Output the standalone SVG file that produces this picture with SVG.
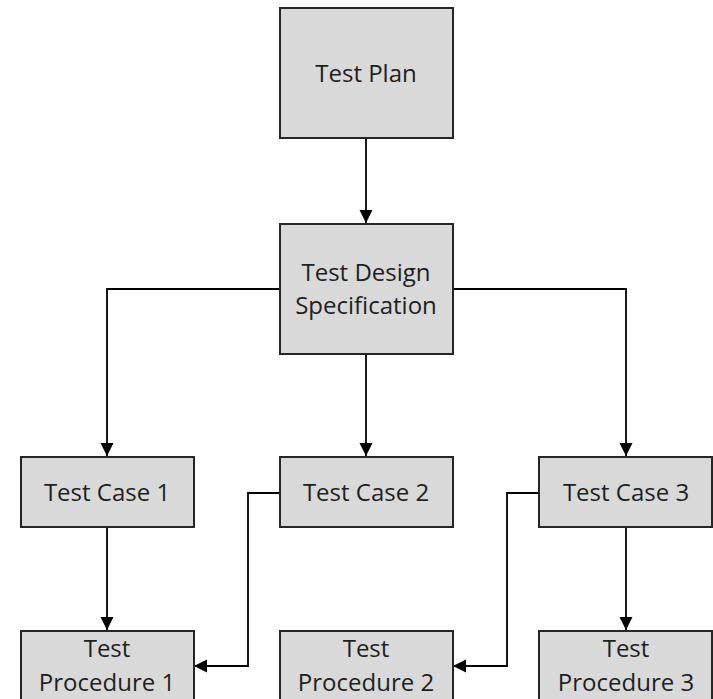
<svg xmlns="http://www.w3.org/2000/svg" width="713" height="699" viewBox="0 0 713 699">
<style>
.box{fill:#d9d9d9;stroke:#262626;stroke-width:2}
.lbl{font-family:"Open Sans","Noto Sans",sans-serif;font-size:24px;fill:#1f1f1f;text-anchor:middle}
.conn{fill:none;stroke:#000;stroke-width:1.8}
</style>
<defs>
<marker id="arr" markerUnits="userSpaceOnUse" markerWidth="14" markerHeight="14" refX="13" refY="7" orient="auto">
<path d="M0,0.5 L13,7 L0,13.5 z" fill="#000"/>
</marker>
</defs>
<rect width="713" height="699" fill="#fff"/>
<g id="connectors">
<path class="conn" d="M366,138 V223" marker-end="url(#arr)"/>
<path class="conn" d="M280,289 H107 V456" marker-end="url(#arr)"/>
<path class="conn" d="M366,354 V456" marker-end="url(#arr)"/>
<path class="conn" d="M453,289 H626 V456" marker-end="url(#arr)"/>
<path class="conn" d="M107,527 V630" marker-end="url(#arr)"/>
<path class="conn" d="M626,527 V630" marker-end="url(#arr)"/>
<path class="conn" d="M280,493 H248 V666 H194" marker-end="url(#arr)"/>
<path class="conn" d="M539,493 H507 V666 H453" marker-end="url(#arr)"/>
</g>
<g id="test-plan">
<rect class="box" x="280" y="8" width="173" height="130"/>
<text class="lbl" x="366" y="82">Test Plan</text>
</g>
<g id="test-design-spec">
<rect class="box" x="280" y="224" width="173" height="130"/>
<text class="lbl" x="366" y="281">Test Design</text>
<text class="lbl" x="366" y="314">Specification</text>
</g>
<g id="test-case-1">
<rect class="box" x="21" y="457" width="173" height="70"/>
<text class="lbl" x="107" y="501">Test Case 1</text>
</g>
<g id="test-case-2">
<rect class="box" x="280" y="457" width="173" height="70"/>
<text class="lbl" x="366" y="501">Test Case 2</text>
</g>
<g id="test-case-3">
<rect class="box" x="539" y="457" width="173" height="70"/>
<text class="lbl" x="626" y="501">Test Case 3</text>
</g>
<g id="test-procedure-1">
<rect class="box" x="21" y="631" width="173" height="80"/>
<text class="lbl" x="107" y="657">Test</text>
<text class="lbl" x="107" y="691">Procedure 1</text>
</g>
<g id="test-procedure-2">
<rect class="box" x="280" y="631" width="173" height="80"/>
<text class="lbl" x="366" y="657">Test</text>
<text class="lbl" x="366" y="691">Procedure 2</text>
</g>
<g id="test-procedure-3">
<rect class="box" x="539" y="631" width="173" height="80"/>
<text class="lbl" x="626" y="657">Test</text>
<text class="lbl" x="626" y="691">Procedure 3</text>
</g>
</svg>
